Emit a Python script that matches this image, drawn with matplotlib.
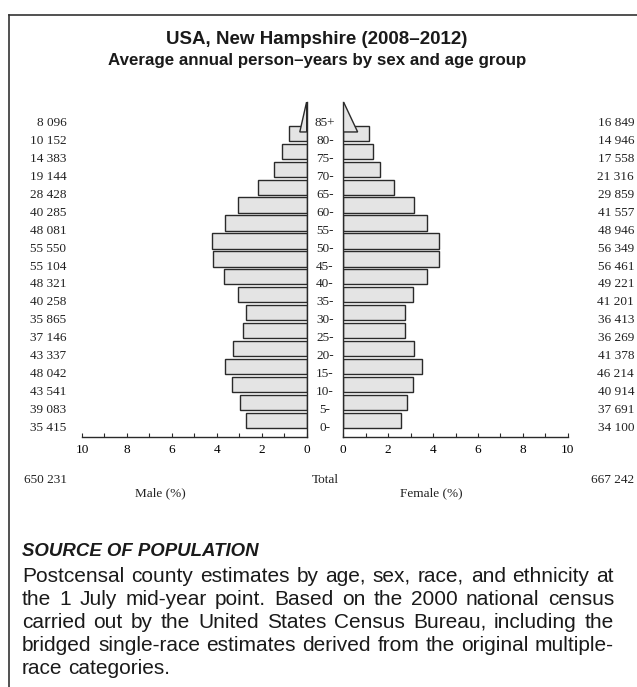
import matplotlib
matplotlib.use('Agg')
import matplotlib.pyplot as plt
from matplotlib.patches import Polygon
from matplotlib.lines import Line2D
from matplotlib.transforms import blended_transform_factory

# age groups, bottom to top
ages = ['0-', '5-', '10-', '15-', '20-', '25-', '30-', '35-', '40-',
        '45-', '50-', '55-', '60-', '65-', '70-', '75-', '80-', '85+']
male = [35415, 39083, 43541, 48042, 43337, 37146, 35865, 40258, 48321,
        55104, 55550, 48081, 40285, 28428, 19144, 14383, 10152, 8096]
female = [34100, 37691, 40914, 46214, 41378, 36269, 36413, 41201, 49221,
          56461, 56349, 48946, 41557, 29859, 21316, 17558, 14946, 16849]

title = ['USA, New Hampshire (2008\u20132012)',
         'Average annual person\u2013years by sex and age group']
source_head = 'SOURCE OF POPULATION'
source_lines = [
    'Postcensal county estimates by age, sex, race, and ethnicity at',
    'the 1 July mid-year point. Based on the 2000 national census',
    'carried out by the United States Census Bureau, including the',
    'bridged single-race estimates derived from the original multiple-',
    'race categories.',
]

W, H = 637, 687
SERIF = 'Liberation Serif'
SANS = 'Liberation Sans'
FILL = '#e4e4e4'
EDGE = '#2a2a2a'


def fmt(v):
    return f'{v:,}'.replace(',', ' ')


def fx(px):
    return px / W


def fy(py):
    return 1 - py / H


total = sum(male) + sum(female)
pm = [v / total * 100 for v in male]
pf = [v / total * 100 for v in female]
rows = list(range(len(ages)))

fig = plt.figure(figsize=(W / 100, H / 100), dpi=100)
axm = fig.add_axes([fx(82), fy(437), fx(306.7) - fx(82), fy(102) - fy(437)])
axf = fig.add_axes([fx(343.3), fy(437), fx(567.7) - fx(343.3), fy(102) - fy(437)])

for ax, pct in ((axm, pm), (axf, pf)):
    # open-ended top group drawn as a triangle
    ax.barh(rows[:-1], pct[:-1], height=0.85, align='edge', left=0,
            color=FILL, edgecolor=EDGE, linewidth=1.0)
    top = rows[-1] - 0.5
    tri = Polygon([(0, top), (pct[-1] / 2, top), (0, top + 1.7)],
                  closed=True, facecolor=FILL, edgecolor=EDGE, linewidth=1.0)
    ax.add_patch(tri)
    ax.set_ylim(-0.5, 18.17)
    ax.set_xticks(range(0, 11, 2))
    ax.set_xticks(range(1, 11, 2), minor=True)
    ax.tick_params(axis='x', which='both', direction='in', length=3,
                   width=0.8, color=EDGE, labelsize=9.5, pad=5)
    ax.tick_params(axis='y', left=False, right=False, labelleft=False)
    for s in ax.spines.values():
        s.set_color(EDGE)
        s.set_linewidth(1.0)
    ax.spines['top'].set_visible(False)

axm.set_xlim(10, 0)
axf.set_xlim(0, 10)
axm.spines['left'].set_visible(False)
axf.spines['right'].set_visible(False)
for ax in (axm, axf):
    for lab in ax.get_xticklabels():
        lab.set_fontfamily(SERIF)

tr = blended_transform_factory(fig.transFigure, axm.transData)
for r, a, m, f in zip(rows, ages, male, female):
    fig.text(fx(66.5), r, fmt(m), transform=tr, ha='right', va='center',
             fontsize=9.5, family=SERIF, color='#222222')
    fig.text(fx(634), r, fmt(f), transform=tr, ha='right', va='center',
             fontsize=9.5, family=SERIF, color='#222222')
    fig.text(fx(325), r, a, transform=tr, ha='center', va='center',
             fontsize=9.5, family=SERIF, color='#222222')

fig.text(fx(66.5), fy(480), fmt(sum(male)), ha='right', va='center',
         fontsize=9.5, family=SERIF, color='#222222')
fig.text(fx(325), fy(480), 'Total', ha='center', va='center',
         fontsize=9.5, family=SERIF, color='#222222')
fig.text(fx(634), fy(480), fmt(sum(female)), ha='right', va='center',
         fontsize=9.5, family=SERIF, color='#222222')
fig.text(fx(160), fy(493), 'Male (%)', ha='center', va='center',
         fontsize=9.5, family=SERIF, color='#222222')
fig.text(fx(431), fy(493), 'Female (%)', ha='center', va='center',
         fontsize=9.5, family=SERIF, color='#222222')

# title
fig.text(fx(317), fy(40), title[0], ha='center', va='center',
         fontsize=13.5, family=SANS, weight='bold', color='#1a1a1a')
fig.text(fx(317), fy(61), title[1], ha='center', va='center',
         fontsize=12.2, family=SANS, weight='bold', color='#1a1a1a')

# frame: top and left rules
fig.add_artist(Line2D([fx(8.5), 1], [fy(15), fy(15)], transform=fig.transFigure,
                      color='#333333', linewidth=1.2))
fig.add_artist(Line2D([fx(8.5), fx(8.5)], [fy(15), 0], transform=fig.transFigure,
                      color='#333333', linewidth=1.2))

# source note, justified word by word
fig.text(fx(22), fy(551), source_head, ha='left', va='center', fontsize=13.4,
         family=SANS, weight='bold', style='italic', color='#1a1a1a')

PSIZE = 15
renderer = fig.canvas.get_renderer()
x0, x1 = 22, 614
for k, line in enumerate(source_lines):
    y = fy(576 + k * 23.2)
    words = line.split()
    arts = [fig.text(0, y, w, ha='left', va='center', fontsize=PSIZE,
                     family=SANS, color='#1a1a1a') for w in words]
    widths = [a.get_window_extent(renderer).width for a in arts]
    if k == len(source_lines) - 1 or len(words) == 1:
        gap = 0.278 * PSIZE * 100 / 72
    else:
        gap = (x1 - x0 - sum(widths)) / (len(words) - 1)
    x = x0
    for a, w in zip(arts, widths):
        a.set_x(fx(x))
        x += w + gap

fig.savefig('out.png', dpi=100)
